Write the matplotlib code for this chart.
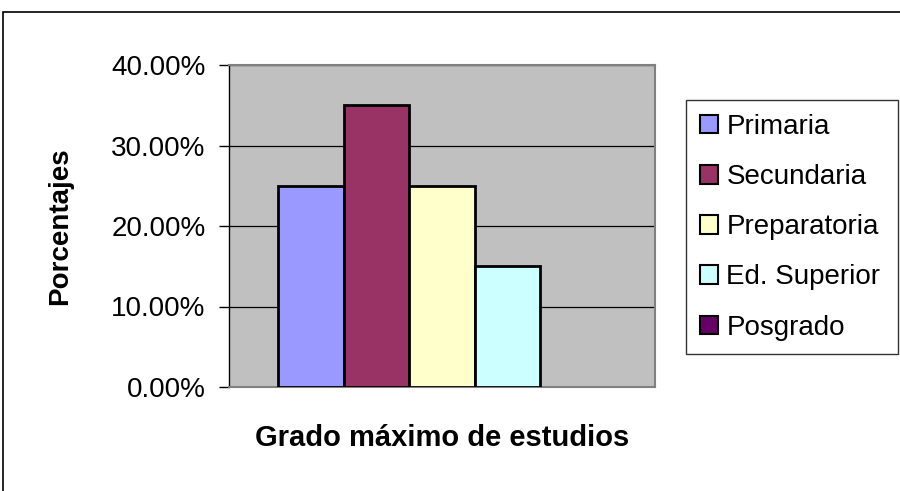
import matplotlib
matplotlib.use("Agg")
import matplotlib.pyplot as plt
from matplotlib.patches import Rectangle, Patch
from matplotlib.ticker import FuncFormatter

# data
niveles = ["Primaria", "Secundaria", "Preparatoria", "Ed. Superior", "Posgrado"]
porcentajes = [0.25, 0.35, 0.25, 0.15, 0.0]
colores = ["#9999FF", "#993366", "#FFFFCC", "#CCFFFF", "#660066"]
yticks = [0.0, 0.10, 0.20, 0.30, 0.40]

plt.rcParams["font.family"] = ["Liberation Sans", "DejaVu Sans"]

W, H = 900, 491
fig = plt.figure(figsize=(9, 4.91), dpi=100)

# outer chart border (only left and top visible in the reference)
fig.patches.append(Rectangle((3 / W, -0.1), 1.2, 1.1 - 12 / H,
                             transform=fig.transFigure, fill=False,
                             edgecolor="black", linewidth=1.2))

ax = fig.add_axes([229 / W, 1 - 387 / H, (655 - 229) / W, (387 - 65) / H])
ax.set_facecolor("#C0C0C0")

xs = list(range(len(niveles)))
bars = ax.bar(xs, porcentajes, width=1.0, color=colores, edgecolor="black",
              linewidth=2.0, zorder=3)
# an empty bar leaves no visible outline
for b, v in zip(bars, porcentajes):
    if v == 0:
        b.set_linewidth(0)

ax.set_xlim(-1.25, len(niveles) - 1 + 1.25)
ax.set_ylim(0, 0.40)
ax.set_yticks(yticks)
ax.yaxis.set_major_formatter(FuncFormatter(lambda v, p: "%.2f%%" % (v * 100)))
ax.grid(axis="y", color="black", linewidth=0.9, zorder=1)
ax.set_xticks([])
ax.tick_params(axis="y", direction="out", length=7, width=1, labelsize=20,
               pad=10, colors="black")

for s in ["top", "right", "bottom"]:
    ax.spines[s].set_color("#808080")
    ax.spines[s].set_linewidth(1.5)
ax.spines["left"].set_color("black")
ax.spines["left"].set_linewidth(1.0)

ax.set_ylabel("Porcentajes", fontsize=20, fontweight="bold")
ax.yaxis.set_label_coords((73 - 229) / (655 - 229), 0.5)
ax.set_xlabel("Grado máximo de estudios", fontsize=21, fontweight="bold")
ax.xaxis.set_label_coords(0.5, -(438 - 387) / (387 - 65))
ax.xaxis.label.set_verticalalignment("center")

handles = [Patch(facecolor=c, edgecolor="black", linewidth=1.5) for c in colores]
leg = fig.legend(handles=handles, labels=niveles,
                 loc="upper left", mode="expand",
                 bbox_to_anchor=(686 / W, 0, (898 - 686) / W, 1 - 100 / H),
                 frameon=True, fancybox=False, edgecolor="black",
                 fontsize=20, handlelength=0.65, handleheight=0.65,
                 handletextpad=0.3, labelspacing=0.87, borderpad=0.5,
                 borderaxespad=0)
leg.get_frame().set_linewidth(1.0)

fig.savefig("out.png", dpi=100, facecolor="white")
